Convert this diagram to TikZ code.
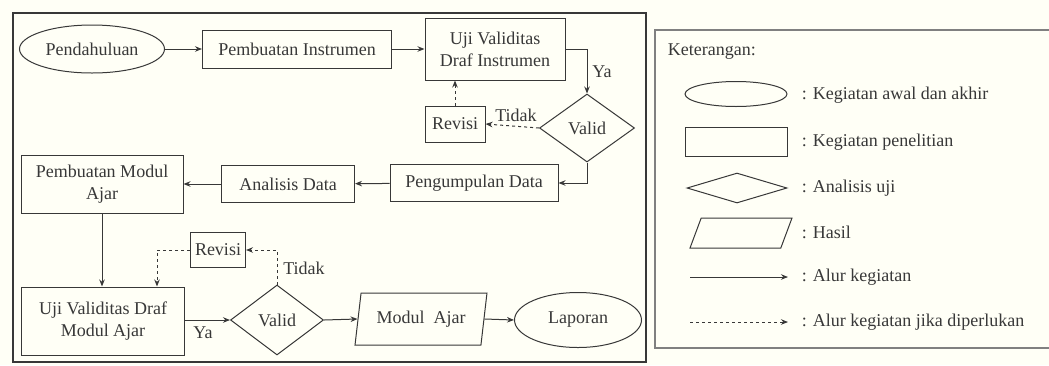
\documentclass[tikz,border=0pt]{standalone}
\usepackage{fontspec}
\setmainfont{Liberation Serif}
\usetikzlibrary{shapes.geometric,arrows.meta}
\definecolor{ink}{HTML}{383838}
\definecolor{paper}{HTML}{FFFFF6}
\tikzset{every picture/.style={line width=1pt}}

\begin{document}
\begin{tikzpicture}[x=1pt,y=-1pt,>={Stealth[length=7pt,width=5.5pt]},
    font=\fontsize{18}{22}\selectfont,text=ink,
    kotak/.style={draw=ink,rectangle,inner sep=2pt,align=center},
    elips/.style={draw=ink,ellipse,inner sep=0pt},
    belah/.style={draw=ink,diamond,inner sep=0pt},
    jajar/.style={draw=ink,trapezium,trapezium stretches=true,trapezium left angle=77,trapezium right angle=103,inner sep=2pt},
    ket/.style={anchor=west},
    alur/.style={->,draw=ink},
    alurputus/.style={->,draw=ink,dashed}]
  \useasboundingbox[fill=paper] (0,0) rectangle (1049,365);
  \draw[ink,line width=2.5pt] (13,13) rectangle (646,362);
  \draw[gray,line width=1.5pt] (655,30) rectangle (1062,348);

  \node[elips,minimum width=145,minimum height=48] (pend) at (92,49) {Pendahuluan};
  \node[kotak,minimum width=189,minimum height=38] (instr) at (297,49) {Pembuatan Instrumen};
  \node[kotak,minimum width=140,minimum height=62] (uji1) at (495,49) {Uji Validitas\\Draf Instrumen};
  \node[belah,minimum width=95,minimum height=68] (val1) at (587,128) {Valid};
  \node[kotak,minimum width=60,minimum height=36] (rev1) at (455,124) {Revisi};
  \node[kotak,minimum width=168,minimum height=37] (kumpul) at (474,183) {Pengumpulan Data};
  \node[kotak,minimum width=133,minimum height=37] (analisis) at (288,184) {Analisis Data};
  \node[kotak,minimum width=162,minimum height=58] (modul) at (102,184) {Pembuatan Modul\\Ajar};
  \node[kotak,minimum width=163,minimum height=68] (uji2) at (103,321) {Uji Validitas Draf\\Modul Ajar};
  \node[kotak,minimum width=55,minimum height=35] (rev2) at (218,250) {Revisi};
  \node[belah,minimum width=93,minimum height=70] (val2) at (277,320) {Valid};
  \node[jajar,minimum width=132,minimum height=52] (hasil) at (421,319) {Modul~~Ajar};
  \node[elips,minimum width=127,minimum height=55] (lap) at (578,320) {Laporan};

  \node (ya1) at (602,72) {Ya};
  \node (tidak1) at (516,115) {Tidak};
  \node (tidak2) at (304,268) {Tidak};
  \node (ya2) at (203,333) {Ya};

  \draw[alur] (pend) -- (instr);
  \draw[alur] (instr) -- (uji1);
  \draw[alur] (uji1.east) -| (val1.north);
  \draw[alurputus] (val1.west) -- (rev1.east);
  \draw[alurputus] (rev1.north) -- (rev1.north |- uji1.south);
  \draw[alur] (val1.south) |- (kumpul.east);
  \draw[alur] (kumpul) -- (analisis);
  \draw[alur] (analisis.west) -- (modul.east |- analisis.west);
  \draw[alur] (modul.south) -- (uji2.north -| modul.south);
  \draw[alurputus] (rev2.west) -| ([xshift=54pt]uji2.north);
  \draw[alurputus] (val2.north) |- (rev2.east);
  \draw[alur] (uji2.east |- val2.west) -- (val2.west);
  \draw[alur] (val2.east) -- (hasil.west);
  \draw[alur] (hasil.east) -- (lap.west);

  \node[ket] (judul) at (664,52) {Keterangan:};
  \node[elips,minimum width=102,minimum height=25] (kelips) at (736,94) {};
  \node[ket] (telips) at (798,95) {: Kegiatan awal dan akhir};
  \node[kotak,minimum width=102,minimum height=29] (kkotak) at (736,142) {};
  \node[ket] (tkotak) at (798,142) {: Kegiatan penelitian};
  \node[belah,minimum width=100,minimum height=30] (kbelah) at (737,188) {};
  \node[ket] (tbelah) at (798,188) {: Analisis uji};
  \node[jajar,trapezium left angle=82,trapezium right angle=98,minimum width=102,minimum height=30] (kjajar) at (741,233) {};
  \node[ket] (tjajar) at (798,232) {: Hasil};
  \coordinate (a1) at (690,277);
  \coordinate (a2) at (788,277);
  \node[ket] (talur) at (798,277) {: Alur kegiatan};
  \coordinate (b1) at (690,322);
  \coordinate (b2) at (788,322);
  \node[ket] (tputus) at (798,322) {: Alur kegiatan jika diperlukan};
  \draw[alur] (a1) -- (a2);
  \draw[alurputus] (b1) -- (b2);
\end{tikzpicture}
\end{document}
